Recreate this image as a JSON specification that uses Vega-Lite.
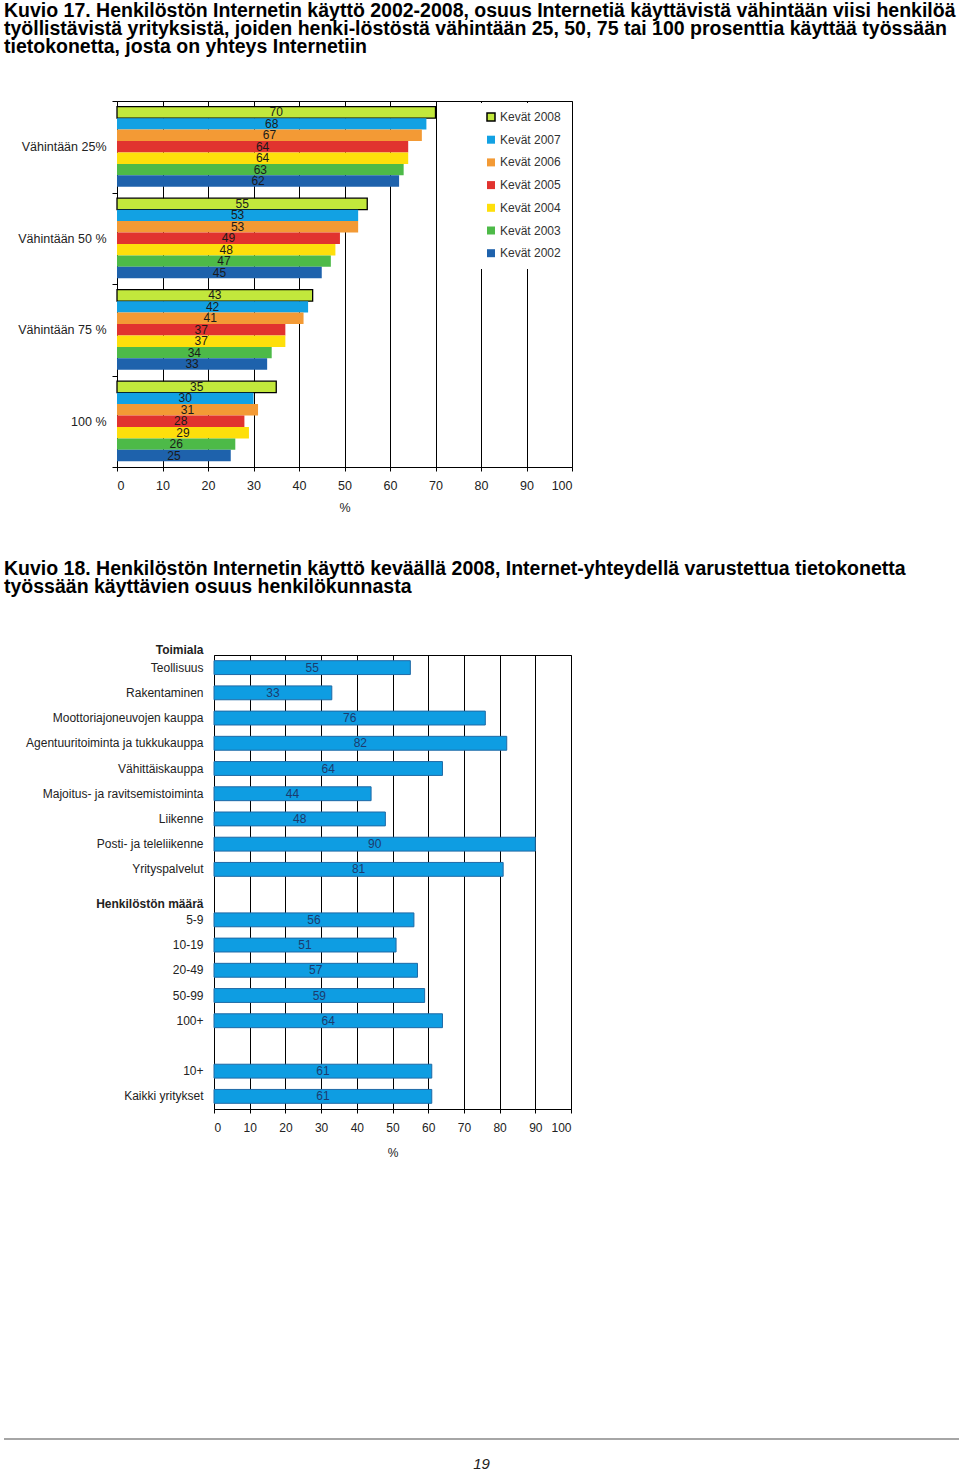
{
  "$schema": "https://vega.github.io/schema/vega-lite/v6.json",
  "padding": {"left": 3, "top": 1, "right": 0, "bottom": 0},
  "background": "white",
  "config": {
    "font": "Liberation Sans",
    "view": {"stroke": "black", "strokeWidth": 1},
    "axis": {"labelFont": "Liberation Sans", "titleFont": "Liberation Sans", "labelColor": "#222", "titleColor": "#222", "domainColor": "black", "tickColor": "black", "gridColor": "black", "gridOpacity": 1, "gridWidth": 1},
    "title": {"color": "black"}
  },
  "vconcat": [
    {
      "vconcat": [
        {
          "title": {
            "text": [
              "Kuvio 17. Henkilöstön Internetin käyttö 2002-2008, osuus Internetiä käyttävistä vähintään viisi henkilöä",
              "työllistävistä yrityksistä, joiden henki-löstöstä vähintään 25, 50, 75 tai 100 prosenttia käyttää työssään",
              "tietokonetta, josta on yhteys Internetiin"
            ],
            "anchor": "start", "frame": "group", "offset": 37,
            "font": "Liberation Sans", "fontSize": 19.5, "fontWeight": "bold", "lineHeight": 18
          },
          "spacing": 0,
          "hconcat": [
            {"width": 1, "height": 1, "view": {"stroke": null}, "data": {"values": []}, "mark": "point"},
            {
              "width": 455,
              "height": 366,
              "data": {
                "values": [
                  {"ryhma": "Vähintään 25%", "sarja": "Kevät 2008", "arvo": 70},
                  {"ryhma": "Vähintään 25%", "sarja": "Kevät 2007", "arvo": 68},
                  {"ryhma": "Vähintään 25%", "sarja": "Kevät 2006", "arvo": 67},
                  {"ryhma": "Vähintään 25%", "sarja": "Kevät 2005", "arvo": 64},
                  {"ryhma": "Vähintään 25%", "sarja": "Kevät 2004", "arvo": 64},
                  {"ryhma": "Vähintään 25%", "sarja": "Kevät 2003", "arvo": 63},
                  {"ryhma": "Vähintään 25%", "sarja": "Kevät 2002", "arvo": 62},
                  {"ryhma": "Vähintään 50 %", "sarja": "Kevät 2008", "arvo": 55},
                  {"ryhma": "Vähintään 50 %", "sarja": "Kevät 2007", "arvo": 53},
                  {"ryhma": "Vähintään 50 %", "sarja": "Kevät 2006", "arvo": 53},
                  {"ryhma": "Vähintään 50 %", "sarja": "Kevät 2005", "arvo": 49},
                  {"ryhma": "Vähintään 50 %", "sarja": "Kevät 2004", "arvo": 48},
                  {"ryhma": "Vähintään 50 %", "sarja": "Kevät 2003", "arvo": 47},
                  {"ryhma": "Vähintään 50 %", "sarja": "Kevät 2002", "arvo": 45},
                  {"ryhma": "Vähintään 75 %", "sarja": "Kevät 2008", "arvo": 43},
                  {"ryhma": "Vähintään 75 %", "sarja": "Kevät 2007", "arvo": 42},
                  {"ryhma": "Vähintään 75 %", "sarja": "Kevät 2006", "arvo": 41},
                  {"ryhma": "Vähintään 75 %", "sarja": "Kevät 2005", "arvo": 37},
                  {"ryhma": "Vähintään 75 %", "sarja": "Kevät 2004", "arvo": 37},
                  {"ryhma": "Vähintään 75 %", "sarja": "Kevät 2003", "arvo": 34},
                  {"ryhma": "Vähintään 75 %", "sarja": "Kevät 2002", "arvo": 33},
                  {"ryhma": "100 %", "sarja": "Kevät 2008", "arvo": 35},
                  {"ryhma": "100 %", "sarja": "Kevät 2007", "arvo": 30},
                  {"ryhma": "100 %", "sarja": "Kevät 2006", "arvo": 31},
                  {"ryhma": "100 %", "sarja": "Kevät 2005", "arvo": 28},
                  {"ryhma": "100 %", "sarja": "Kevät 2004", "arvo": 29},
                  {"ryhma": "100 %", "sarja": "Kevät 2003", "arvo": 26},
                  {"ryhma": "100 %", "sarja": "Kevät 2002", "arvo": 25}
                ]
              },
              "encoding": {
                "y": {
                  "field": "ryhma", "type": "nominal", "sort": null,
                  "scale": {"paddingInner": 0, "paddingOuter": 0},
                  "axis": {"title": null, "tickBand": "extent", "tickSize": 5, "labelPadding": 6, "labelFontSize": 12.5, "domain": false, "minExtent": 111}
                },
                "yOffset": {
                  "field": "sarja", "type": "nominal",
                  "sort": ["Kevät 2008", "Kevät 2007", "Kevät 2006", "Kevät 2005", "Kevät 2004", "Kevät 2003", "Kevät 2002"],
                  "scale": {"paddingInner": 0, "paddingOuter": 0.5}
                }
              },
              "layer": [
                {
                  "mark": {"type": "bar", "strokeWidth": 1.3},
                  "encoding": {
                    "x": {
                      "field": "arvo", "type": "quantitative",
                      "scale": {"domain": [0, 100], "nice": false},
                      "axis": {"values": [0, 10, 20, 30, 40, 50, 60, 70, 80, 90, 100], "grid": true, "tickSize": 4, "labelPadding": 8, "labelFontSize": 12.5, "title": "%", "titlePadding": 10, "titleFontSize": 12.5, "titleFontWeight": "normal", "domain": false}
                    },
                    "color": {
                      "field": "sarja", "type": "nominal",
                      "scale": {
                        "domain": ["Kevät 2008", "Kevät 2007", "Kevät 2006", "Kevät 2005", "Kevät 2004", "Kevät 2003", "Kevät 2002"],
                        "range": ["#C2E83C", "#12A1E3", "#F39A35", "#E1332F", "#FEDF0B", "#4DBA48", "#1E62AC"]
                      },
                      "legend": {"title": null, "orient": "none", "legendX": 473, "legendY": 2, "padding": 8, "fillColor": "white", "symbolType": "square", "symbolSize": 64, "labelFontSize": 12, "labelColor": "#333", "labelOffset": 3, "rowPadding": 8.7}
                    },
                    "stroke": {
                      "field": "sarja", "type": "nominal",
                      "scale": {
                        "domain": ["Kevät 2008", "Kevät 2007", "Kevät 2006", "Kevät 2005", "Kevät 2004", "Kevät 2003", "Kevät 2002"],
                        "range": ["black", "transparent", "transparent", "transparent", "transparent", "transparent", "transparent"]
                      },
                      "legend": {"title": null, "orient": "none", "legendX": 473, "legendY": 2, "padding": 8, "fillColor": "white", "symbolType": "square", "symbolSize": 64, "labelFontSize": 12, "labelColor": "#333", "labelOffset": 3, "rowPadding": 8.7}
                    }
                  }
                },
                {
                  "mark": {"type": "text", "fontSize": 12, "color": "#1a1a1a"},
                  "encoding": {
                    "x": {"field": "arvo", "type": "quantitative", "scale": {"domain": [0, 200], "nice": false}, "axis": null},
                    "text": {"field": "arvo", "type": "quantitative"}
                  }
                }
              ],
              "resolve": {"scale": {"x": "independent"}}
            }
          ]
        },
        {
          "title": {
            "text": [
              "Kuvio 18. Henkilöstön Internetin käyttö keväällä 2008, Internet-yhteydellä varustettua tietokonetta",
              "työssään käyttävien osuus henkilökunnasta"
            ],
            "anchor": "start", "frame": "group", "offset": 45,
            "font": "Liberation Sans", "fontSize": 19.5, "fontWeight": "bold", "lineHeight": 18
          },
          "spacing": 0,
          "hconcat": [
            {"width": 1, "height": 1, "view": {"stroke": null}, "data": {"values": []}, "mark": "point"},
            {
              "width": 357,
              "height": 454,
              "data": {
                "values": [
                  {"luokka": "Teollisuus", "arvo": 55},
                  {"luokka": "Rakentaminen", "arvo": 33},
                  {"luokka": "Moottoriajoneuvojen kauppa", "arvo": 76},
                  {"luokka": "Agentuuritoiminta ja tukkukauppa", "arvo": 82},
                  {"luokka": "Vähittäiskauppa", "arvo": 64},
                  {"luokka": "Majoitus- ja ravitsemistoiminta", "arvo": 44},
                  {"luokka": "Liikenne", "arvo": 48},
                  {"luokka": "Posti- ja teleliikenne", "arvo": 90},
                  {"luokka": "Yrityspalvelut", "arvo": 81},
                  {"luokka": "5-9", "arvo": 56},
                  {"luokka": "10-19", "arvo": 51},
                  {"luokka": "20-49", "arvo": 57},
                  {"luokka": "50-99", "arvo": 59},
                  {"luokka": "100+", "arvo": 64},
                  {"luokka": "10+", "arvo": 61},
                  {"luokka": "Kaikki yritykset", "arvo": 61}
                ]
              },
              "encoding": {
                "y": {
                  "field": "luokka", "type": "nominal",
                  "scale": {
                    "domain": ["Teollisuus", "Rakentaminen", "Moottoriajoneuvojen kauppa", "Agentuuritoiminta ja tukkukauppa", "Vähittäiskauppa", "Majoitus- ja ravitsemistoiminta", "Liikenne", "Posti- ja teleliikenne", "Yrityspalvelut", "Henkilöstön määrä", "5-9", "10-19", "20-49", "50-99", "100+", " ", "10+", "Kaikki yritykset"],
                    "paddingInner": 0.45, "paddingOuter": 0.225
                  },
                  "axis": {
                    "title": "Toimiala", "titleAngle": 0, "titleAlign": "right", "titleBaseline": "middle", "titleX": -11, "titleY": -6, "titleFontWeight": "bold", "titleFontSize": 12,
                    "ticks": false, "domain": false, "labelPadding": 11, "labelFontSize": 12, "labelLimit": 260, "minExtent": 208,
                    "labelFontWeight": {"condition": {"test": "datum.value === 'Henkilöstön määrä'", "value": "bold"}, "value": "normal"},
                    "labelOffset": {"condition": {"test": "datum.value === 'Henkilöstön määrä'", "value": 9}, "value": 0}
                  }
                }
              },
              "layer": [
                {
                  "mark": {"type": "bar", "color": "#0E9DE2", "stroke": "#1F6AA6", "strokeWidth": 1},
                  "encoding": {
                    "x": {
                      "field": "arvo", "type": "quantitative",
                      "scale": {"domain": [0, 100], "nice": false},
                      "axis": {"values": [0, 10, 20, 30, 40, 50, 60, 70, 80, 90, 100], "grid": true, "tickSize": 4, "labelPadding": 9, "labelFontSize": 12, "title": "%", "titlePadding": 14, "titleFontSize": 12, "titleFontWeight": "normal", "domain": false}
                    }
                  }
                },
                {
                  "mark": {"type": "text", "fontSize": 12, "color": "#1C3B6E"},
                  "encoding": {
                    "x": {"field": "arvo", "type": "quantitative", "scale": {"domain": [0, 200], "nice": false}, "axis": null},
                    "text": {"field": "arvo", "type": "quantitative"}
                  }
                }
              ],
              "resolve": {"scale": {"x": "independent"}}
            }
          ]
        }
      ],
      "spacing": 44
    },
    {
      "width": 955,
      "height": 30,
      "view": {"stroke": null},
      "data": {"values": [{"sivu": "19"}]},
      "encoding": {},
      "layer": [
        {
          "mark": {"type": "rule", "color": "#888", "strokeWidth": 1.5},
          "encoding": {"y": {"datum": 1, "type": "quantitative", "scale": {"domain": [0, 1]}, "axis": null}}
        },
        {
          "mark": {"type": "text", "fontSize": 15, "fontStyle": "italic", "font": "Liberation Sans", "color": "#222"},
          "encoding": {
            "y": {"datum": 0.17, "type": "quantitative"},
            "text": {"field": "sivu", "type": "nominal"}
          }
        }
      ]
    }
  ],
  "spacing": 279
}
